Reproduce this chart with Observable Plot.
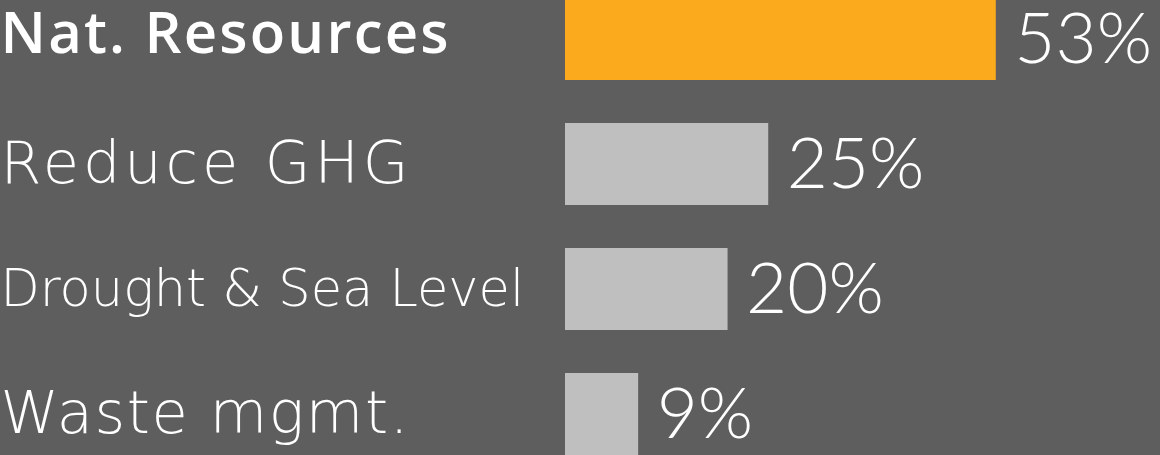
<!DOCTYPE html>
<html><head><meta charset="utf-8">
<script src="https://cdn.jsdelivr.net/npm/d3@7"></script>
<script src="https://cdn.jsdelivr.net/npm/@observablehq/plot@0.6"></script>
<style>
html,body{margin:0;padding:0;background:#5e5e5e;overflow:hidden}
svg{display:block}
</style></head><body><div id="chart"></div>
<script>
// Data
const categories = ["Nat. Resources", "Reduce GHG", "Drought & Sea Level", "Waste mgmt."];
const values = [53, 25, 20, 9];
const highlighted = "Nat. Resources";

// Styles (kept apart from the data)
const BG = "#5e5e5e", ORANGE = "#fba91d", GREY = "#bfbfbf";
const labelFont = {"Nat. Resources": 58, "Reduce GHG": 59, "Drought & Sea Level": 51, "Waste mgmt.": 59};
const labelSpacing = {"Nat. Resources": 2.2, "Reduce GHG": 3.9, "Drought & Sea Level": 0, "Waste mgmt.": 1.6};
const ML = 565;

const data = categories.map((c, i) => ({category: c, value: values[i]}));

const chart = Plot.plot({
  width: 1160, height: 455,
  marginLeft: ML, marginRight: 0, marginTop: 0, marginBottom: 0,
  style: {background: BG, color: "white", fontFamily: "Lato, 'Open Sans', sans-serif", overflow: "visible"},
  x: {domain: [0, 73.2], axis: null},
  y: {domain: categories, range: [-2, 455], paddingInner: 0.344, paddingOuter: 0, axis: null},
  color: {type: "identity"},
  marks: [
    Plot.barX(data, {x: "value", y: "category", fill: d => d.category === highlighted ? ORANGE : GREY}),
    Plot.text(data, {x: "value", y: "category", text: d => d.value + "%", textAnchor: "start", dx: 18, dy: 1, fill: "white", fontSize: 71, fontWeight: 300}),
    Plot.text(data.filter(d => d.category === highlighted), {y: "category", frameAnchor: "left", dx: -ML, dy: -5, textAnchor: "start", text: "category", fill: "white", fontSize: d => labelFont[d.category], fontWeight: 600, fontFamily: "'Open Sans', Lato, sans-serif"}),
    Plot.text(data.filter(d => d.category !== highlighted), {y: "category", frameAnchor: "left", dx: -ML, textAnchor: "start", text: "category", fill: "white", fontSize: d => labelFont[d.category], fontWeight: 300, fontFamily: "'DejaVu Sans', sans-serif"})
  ]
});
d3.select(chart).selectAll("text").each(function() {
  const s = labelSpacing[this.textContent];
  if (s != null) { this.setAttribute("letter-spacing", s); this.style.letterSpacing = s + "px"; }
});
document.getElementById("chart").appendChild(chart);
</script></body></html>
